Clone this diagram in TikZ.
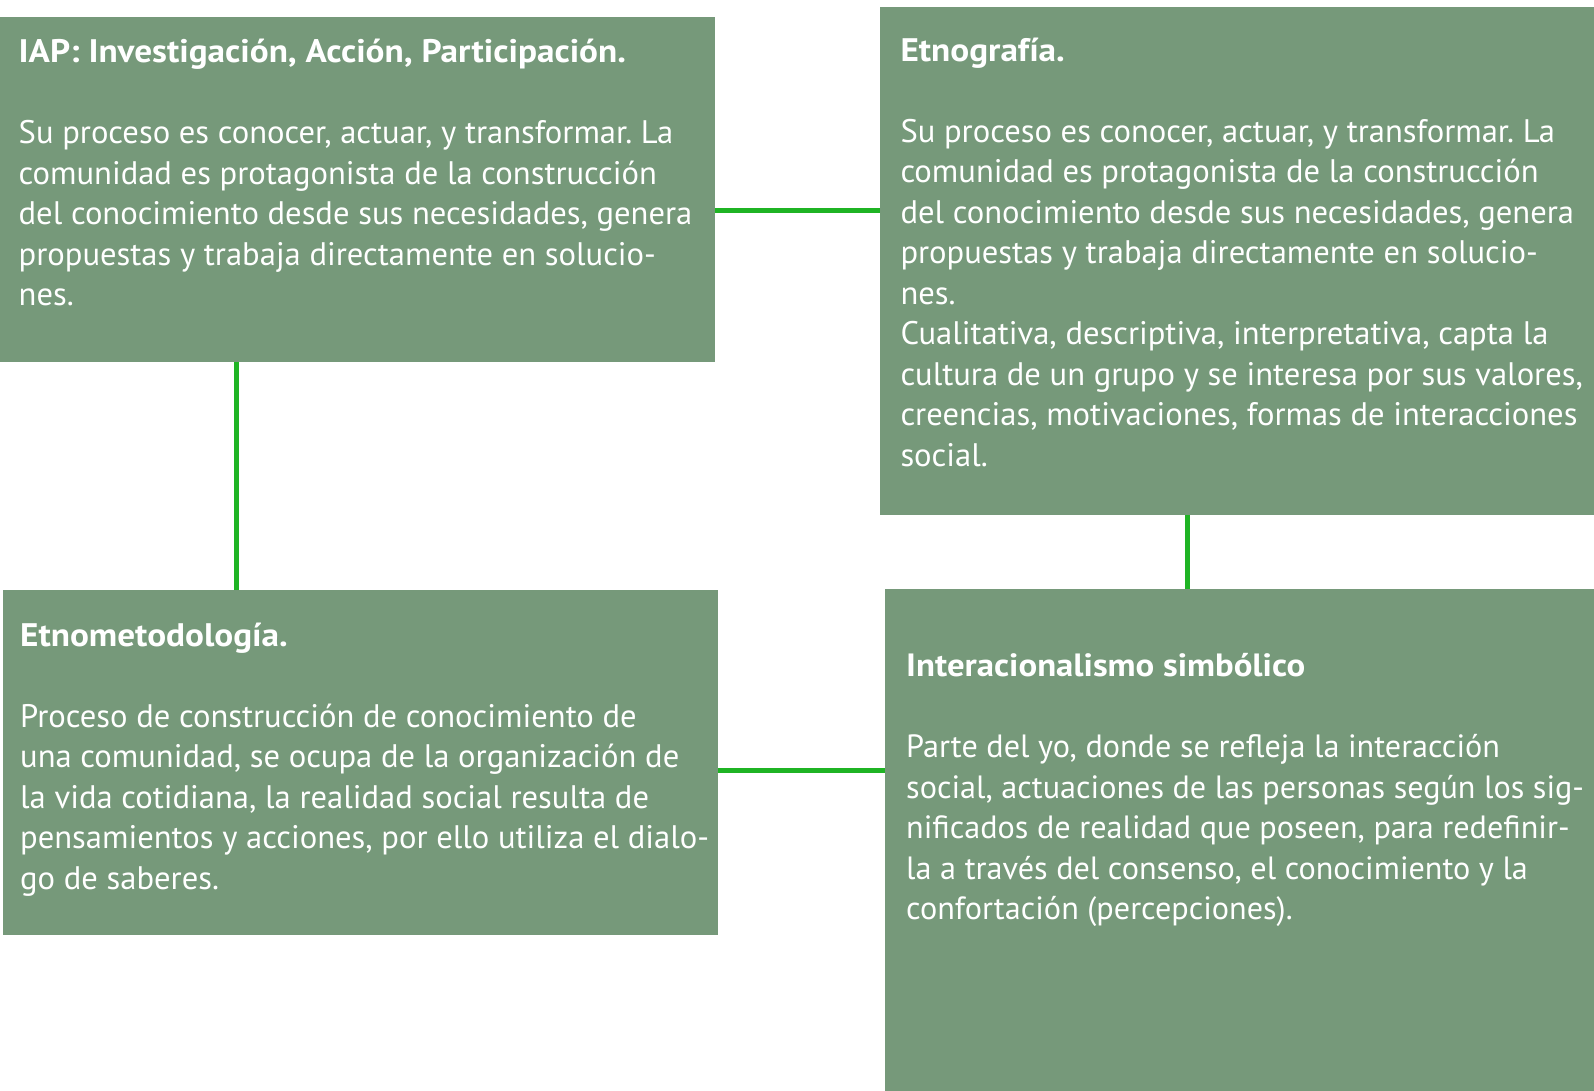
\documentclass[tikz,border=0pt]{standalone}
\usepackage{fontspec}
\setmainfont{PT Sans}[BoldFeatures={FakeStretch=1.08}]
\definecolor{boxgreen}{RGB}{118,153,122}
\definecolor{linkgreen}{RGB}{31,180,36}
\begin{document}
\frenchspacing
\begin{tikzpicture}[x=1pt,y=-1pt,
  card/.style={fill=boxgreen,draw=none,inner sep=0pt,anchor=north west,rectangle},
  cardtext/.style={inner sep=0pt,anchor=base west,text=white,font=\fontsize{32.6}{40.5}\selectfont},
  link/.style={draw=linkgreen,line width=5pt}]
\useasboundingbox (0,0) rectangle (1594,1091);
\fill[white] (0,0) rectangle (1594,1091);
% boxes
\node[card,minimum width=715pt,minimum height=345pt] (b1) at (0,17) {};
\node[card,minimum width=714pt,minimum height=508pt] (b2) at (880,7) {};
\node[card,minimum width=715pt,minimum height=345pt] (b3) at (3,590) {};
\node[card,minimum width=709pt,minimum height=502pt] (b4) at (885,589) {};
% connectors
\draw[link] (b1.east |- 0,211) -- (b2.west |- 0,211);
\draw[link] (b1.south -| 236.5,0) -- (b3.north -| 236.5,0);
\draw[link] (b2.south -| 1187.7,0) -- (b4.north -| 1187.7,0);
\draw[link] (b3.east |- 0,770.7) -- (b4.west |- 0,770.7);
% texts
\node[cardtext] (t1) at (18.5,62.7) {\parbox[t]{700pt}{\raggedright
\textbf{IAP: Investigación, Acción, Participación.}\\[40.5pt]
Su proceso es conocer, actuar, y transformar. La\\
comunidad es protagonista de la construcción\\
del conocimiento desde sus necesidades, genera\\
propuestas y trabaja directamente en solucio-\\
nes.}};
\node[cardtext] (t2) at (900.3,61.3) {\parbox[t]{700pt}{\raggedright
\textbf{Etnografía.}\\[40.5pt]
Su proceso es conocer, actuar, y transformar. La\\
comunidad es protagonista de la construcción\\
del conocimiento desde sus necesidades, genera\\
propuestas y trabaja directamente en solucio-\\
nes.\\
Cualitativa, descriptiva, interpretativa, capta la\\
cultura de un grupo y se interesa por sus valores,\\
creencias, motivaciones, formas de interacciones\\
social.}};
\node[cardtext] (t3) at (20,646.4) {\parbox[t]{700pt}{\raggedright
\textbf{Etnometodología.}\\[40.5pt]
Proceso de construcción de conocimiento de\\
una comunidad, se ocupa de la organización de\\
la vida cotidiana, la realidad social resulta de\\
pensamientos y acciones, por ello utiliza el dialo-\\
go de saberes.}};
\node[cardtext,font=\fontsize{32.2}{40.5}\selectfont] (t4) at (906,676.7) {\parbox[t]{700pt}{\raggedright
\textbf{Interacionalismo simbólico}\\[40.5pt]
Parte del yo, donde se refleja la interacción\\
social, actuaciones de las personas según los sig-\\
nificados de realidad que poseen, para redefinir-\\
la a través del consenso, el conocimiento y la\\
confortación (percepciones).}};
\end{tikzpicture}
\end{document}
